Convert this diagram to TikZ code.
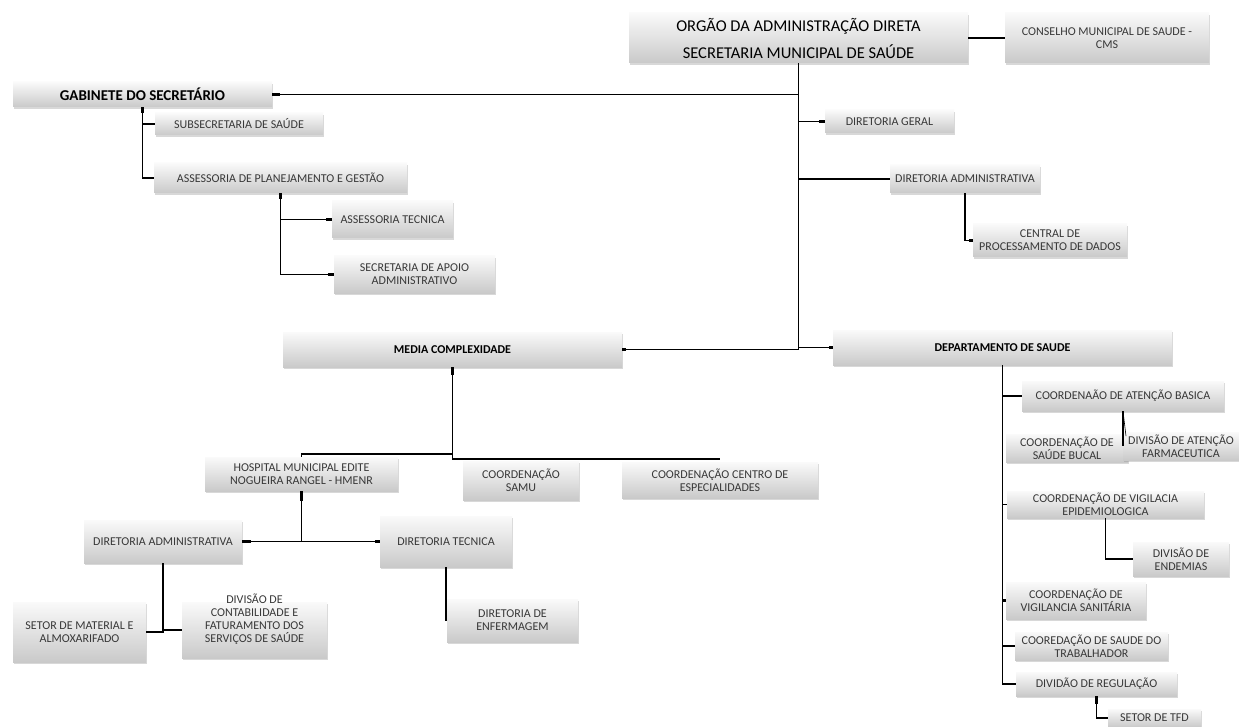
\documentclass[tikz,border=0pt]{standalone}
\usepackage{fontspec}
\setmainfont{Carlito}
\usetikzlibrary{shadows}
\newcommand{\lblfont}{\fontsize{12}{13}\selectfont}
\newcommand{\bx}[7][]{\node[box,minimum width={#5-#3},minimum height={#6-#4},#1] (#2) at ({(#3+#5)/2},{(#4+#6)/2}) {#7};}
\begin{document}
\begin{tikzpicture}[x=1pt,y=-1pt,
 box/.style={rectangle, inner sep=1pt, align=center, top color=black!2, bottom color=black!21,
   drop shadow={shadow xshift=1.2pt, shadow yshift=-1.8pt, opacity=0.3}, font=\lblfont, text=black!78},
 hd/.style={font=\fontsize{12}{13}\selectfont\bfseries, text=black},
 conn/.style={line width=1.1pt},
 stub/.style={line width=2.5pt}]
\useasboundingbox[fill=white] (0,0) rectangle (1239,727);

% boxes
\bx[font=\fontsize{16.5}{27}\selectfont, text=black]{main}{629}{13}{968}{63}{ORGÃO DA ADMINISTRAÇÃO DIRETA\\SECRETARIA MUNICIPAL DE SAÚDE}
\bx{cms}{1005}{13}{1209}{63}{CONSELHO MUNICIPAL DE SAUDE -\\CMS}
\bx[font=\fontsize{15}{16}\selectfont\bfseries,text=black]{gab}{13}{82}{272}{107}{GABINETE DO SECRETÁRIO}
\bx{sub}{155}{113}{323}{135}{SUBSECRETARIA DE SAÚDE}
\bx{apg}{154}{163}{407}{193}{ASSESSORIA DE PLANEJAMENTO E GESTÃO}
\bx{atec}{332}{201}{453}{238}{ASSESSORIA TECNICA}
\bx{apoio}{334}{256}{495}{293}{SECRETARIA DE APOIO\\ADMINISTRATIVO}
\bx{dg}{825}{110}{954}{133}{DIRETORIA GERAL}
\bx{dadm}{890}{165}{1040}{193}{DIRETORIA ADMINISTRATIVA}
\bx{cpd}{973}{224}{1127}{257}{CENTRAL DE\\PROCESSAMENTO DE DADOS}
\bx[hd]{media}{283}{332}{622}{367}{MEDIA COMPLEXIDADE}
\bx[hd]{dep}{833}{330}{1172}{365}{DEPARTAMENTO DE SAUDE}
\bx{hosp}{205}{457}{398}{491}{HOSPITAL MUNICIPAL EDITE\\NOGUEIRA RANGEL - HMENR}
\bx{samu}{463}{461}{579}{500}{COORDENAÇÃO\\SAMU}
\bx{cesp}{622}{462}{818}{498}{COORDENAÇÃO CENTRO DE\\ESPECIALIDADES}
\bx{hadm}{84}{520}{242}{563}{DIRETORIA ADMINISTRATIVA}
\bx{htec}{380}{516}{512}{567}{DIRETORIA TECNICA}
\bx{mat}{13}{602}{146}{662}{SETOR DE MATERIAL E\\ALMOXARIFADO}
\bx{contab}{182}{602}{327}{658}{}
\node[font=\lblfont, text=black!78, align=center] (contabtxt) at (254.5,619) {DIVISÃO DE\\CONTABILIDADE E\\FATURAMENTO DOS\\SERVIÇOS DE SAÚDE};
\bx{enf}{447}{599}{578}{642}{DIRETORIA DE\\ENFERMAGEM}
\bx{basica}{1022}{381}{1224}{411}{COORDENAÃO DE ATENÇÃO BASICA}
\bx{bucal}{1006}{434}{1128}{462}{COORDENAÇÃO DE\\SAÚDE BUCAL}
\bx{farm}{1123}{432}{1239}{460}{DIVISÃO DE ATENÇÃO\\FARMACEUTICA}
\bx{vepi}{1007}{491}{1204}{518}{COORDENAÇÃO DE VIGILACIA\\EPIDEMIOLOGICA}
\bx{endem}{1133}{542}{1229}{576}{DIVISÃO DE\\ENDEMIAS}
\bx{vsan}{1006}{582}{1146}{619}{COORDENAÇÃO DE\\VIGILANCIA SANITÁRIA}
\bx{trab}{1015}{632}{1168}{660}{COOREDAÇÃO DE SAUDE DO\\TRABALHADOR}
\bx{reg}{1016}{672}{1177}{696}{DIVIDÃO DE REGULAÇÃO}
\bx{tfd}{1108}{709}{1201}{727}{SETOR DE TFD}

% connectors
\draw[conn] (main.east) -- (cms.west);
\coordinate (tj) at (main.south |- media.east);
\draw[conn] (main.south) -- (tj);
\draw[conn] (gab.east) -- (gab.east -| main.south);
\draw[conn] (dg.west) -- (dg.west -| main.south);
\draw[conn] (dadm.west) -- (dadm.west -| main.south);
\draw[conn] (media.east) -- (tj);
\draw[conn] (dep.west) -- (dep.west -| main.south);
\draw[conn] (dadm.south) |- (cpd.west);
\draw[conn] (gab.south) |- (sub.west);
\draw[conn] (gab.south) |- (apg.west);
\draw[conn] (apg.south) |- (atec.west);
\draw[conn] (apg.south) |- (apoio.west);
\coordinate (ml) at (452.5,454);
\coordinate (mr) at (452.5,459);
\draw[conn] (media.south) -- (mr) -- (mr -| cesp.north);
\draw[conn] (ml) -| (hosp.north);
\draw[conn] (hosp.south) |- (hadm.east);
\draw[conn] (hosp.south) |- (htec.west);
\draw[conn] (hadm.south) |- (mat.east);
\draw[conn] (hadm.south) |- (contab.west);
\draw[conn] (htec.south) -- (htec.south |- enf.west);
\draw[conn] (dep.south) |- (reg.west);
\foreach \n in {basica,vepi,vsan,trab} \draw[conn] (\n.west) -- (\n.west -| dep.south);
\draw[conn] (basica.south) -- (basica.south |- farm.center);
\draw[line width=0.6pt] (basica.south) -- ++(3,25);
\draw[conn] (vepi.south) |- (endem.west);
\draw[conn] (reg.south) |- (tfd.west);

% thick stubs
\draw[stub] (gab.east) -- ++(8,0);
\draw[stub] (gab.south) -- ++(0,6);
\draw[stub] (sub.west) -- ++(-6,0);
\draw[stub] (apg.west) -- ++(-5,0);
\draw[stub] (apg.south) -- ++(0,6);
\draw[stub] (atec.west) -- ++(-6,0);
\draw[stub] (apoio.west) -- ++(-6,0);
\draw[stub] (dg.west) -- ++(-6,0);
\draw[stub] (dadm.west) -- ++(-6,0);
\draw[stub] (dadm.south) -- ++(0,8);
\draw[stub] (cpd.west) -- ++(-4,0);
\draw[stub] (media.east) -- ++(4,0);
\draw[stub] (media.south) -- ++(0,8);
\draw[stub] (dep.west) -- ++(-4,0);
\draw[stub] (hosp.south) -- ++(0,10);
\draw[stub] (hadm.east) -- ++(9,0);
\draw[stub] (hadm.south) -- ++(0,7);
\draw[stub] (htec.west) -- ++(-5,0);
\draw[stub] (mat.east) -- ++(5,0);
\draw[stub] (contab.west) -- ++(-5,0);
\draw[stub] (basica.west) -- ++(-5,0);
\draw[stub] (vsan.west) -- ++(-4,0);
\draw[stub] (trab.west) -- ++(-6,0);
\draw[stub] (endem.west) -- ++(-4,0);
\draw[stub] (reg.south) -- ++(0,8);
\draw[stub] (tfd.west) -- ++(-5,0);
\end{tikzpicture}
\end{document}
